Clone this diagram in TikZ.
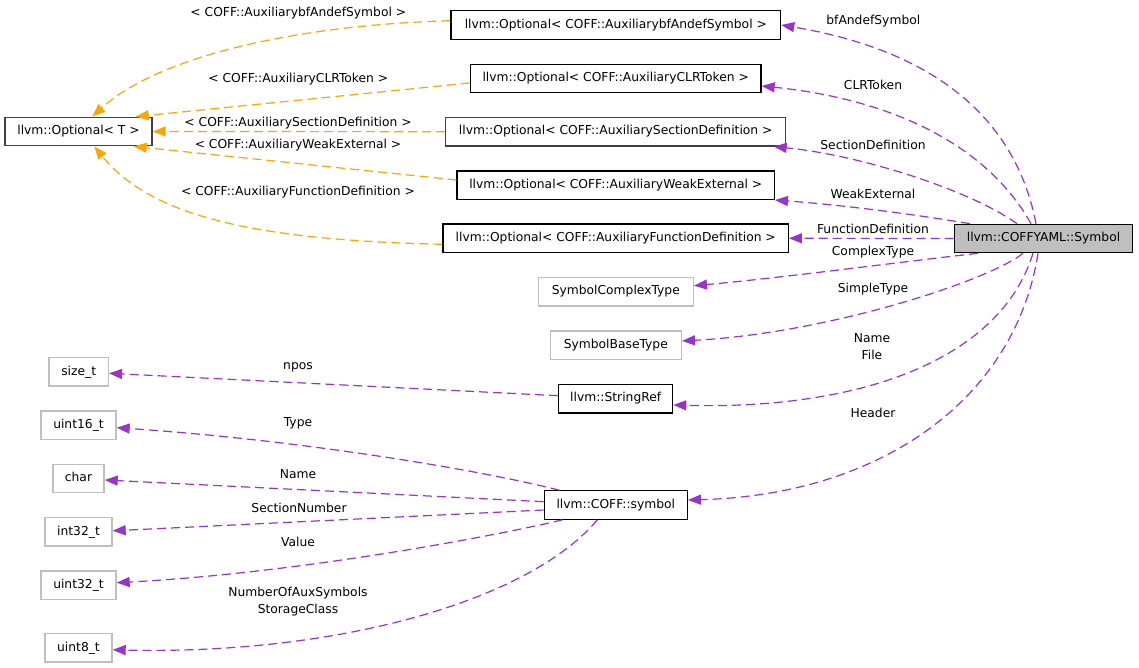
\documentclass[tikz,border=0pt]{standalone}
\usepackage{fontspec}
\setmainfont{DejaVu Sans}
\usetikzlibrary{arrows.meta,calc}
\definecolor{edgepurple}{HTML}{9A32CD}
\definecolor{edgeorange}{HTML}{FFA500}
\definecolor{boxgray}{HTML}{BFBFBF}
\definecolor{darkborder}{HTML}{404040}
\begin{document}
\begin{tikzpicture}[x=1pt,y=-1pt,
  box/.style={draw=black, line width=1.2pt, minimum height=28.4pt, inner sep=0pt,
    text height=9pt, text depth=2.5pt, font=\fontsize{12.3}{15}\selectfont},
  darkbox/.style={box, draw=darkborder, line width=1.4pt},
  graybox/.style={box, draw=boxgray, line width=1.4pt},
  mainbox/.style={box, fill=boxgray},
  lbl/.style={inner sep=0pt, align=center, font=\fontsize{12.3}{17}\selectfont},
  uses/.style={draw=edgepurple, line width=1.2pt, dash pattern=on 9pt off 5pt,
    -{Triangle[length=13pt,width=10pt,fill=edgepurple]}},
  inh/.style={draw=edgeorange, line width=1.2pt, dash pattern=on 9pt off 5pt,
    -{Triangle[length=13pt,width=10pt,fill=edgeorange]}}
]
\useasboundingbox (0,0) rectangle (1139,668);
\fill[white] (0,0) rectangle (1139,668);

% nodes
\node[darkbox, minimum width=147pt] (optT) at (78.5,131.5) {llvm::Optional< T >};
\node[box, minimum width=329.7pt] (bf) at (615.8,25) {llvm::Optional< COFF::AuxiliarybfAndefSymbol >};
\node[box, minimum width=290.7pt] (clr) at (615.7,78.5) {llvm::Optional< COFF::AuxiliaryCLRToken >};
\node[darkbox, minimum width=340pt] (sec) at (615.7,131.7) {llvm::Optional< COFF::AuxiliarySectionDefinition >};
\node[box, minimum width=317.3pt] (weak) at (615.7,185.3) {llvm::Optional< COFF::AuxiliaryWeakExternal >};
\node[box, minimum width=345.3pt] (func) at (615.7,238.3) {llvm::Optional< COFF::AuxiliaryFunctionDefinition >};
\node[mainbox, minimum width=178.4pt] (sym) at (1043.5,238.5) {llvm::COFFYAML::Symbol};
\node[graybox, minimum width=155pt] (cplx) at (615.8,291.7) {SymbolComplexType};
\node[graybox, minimum width=131pt] (base) at (615.8,345) {SymbolBaseType};
\node[box, minimum width=114pt] (strref) at (615.7,398.7) {llvm::StringRef};
\node[box, minimum width=143pt] (coffsym) at (615.8,505) {llvm::COFF::symbol};
\node[graybox, minimum width=59.3pt] (sizet) at (78.7,371.8) {size\_t};
\node[graybox, minimum width=75pt] (u16) at (78.5,425.2) {uint16\_t};
\node[graybox, minimum width=51pt] (char) at (78.5,478.5) {char};
\node[graybox, minimum width=67pt] (i32) at (78.5,531.8) {int32\_t};
\node[graybox, minimum width=75pt] (u32) at (78.5,585.2) {uint32\_t};
\node[graybox, minimum width=67pt] (u8) at (78.5,647.8) {uint8\_t};

% edge labels
\node[lbl] (lbf) at (298.3,12.7) {< COFF::AuxiliarybfAndefSymbol >};
\node[lbl] (lclr) at (298.3,78.7) {< COFF::AuxiliaryCLRToken >};
\node[lbl] (lsec) at (298,122.7) {< COFF::AuxiliarySectionDefinition >};
\node[lbl] (lweak) at (298,144.7) {< COFF::AuxiliaryWeakExternal >};
\node[lbl] (lfunc) at (298,191.7) {< COFF::AuxiliaryFunctionDefinition >};
\node[lbl] (ubf) at (873.3,20.7) {bfAndefSymbol};
\node[lbl] (uclr) at (873,84.7) {CLRToken};
\node[lbl] (usec) at (873,144.7) {SectionDefinition};
\node[lbl] (uweak) at (873,194) {WeakExternal};
\node[lbl] (ufunc) at (873,228.7) {FunctionDefinition};
\node[lbl] (ucplx) at (873,251.7) {ComplexType};
\node[lbl] (ubase) at (873,288.7) {SimpleType};
\node[lbl] (ustr) at (872,347) {Name\\File};
\node[lbl] (uhead) at (873,412.7) {Header};
\node[lbl] (unpos) at (298,367.7) {npos};
\node[lbl] (utype) at (298,423.7) {Type};
\node[lbl] (uname) at (298,474.3) {Name};
\node[lbl] (usecn) at (299,508.3) {SectionNumber};
\node[lbl] (uval) at (298,542.3) {Value};
\node[lbl] (uaux) at (298,601.3) {NumberOfAuxSymbols\\StorageClass};

% purple edges from Symbol
\draw[uses] ($(sym.north)+(-7.5,0)$) .. controls (1020,140) and (960,55) .. (bf.east);
\draw[uses] ($(sym.north)+(-12.5,0)$) .. controls (990,150) and (900,100) .. ($(clr.east)+(0,7.5)$);
\draw[uses] ($(sym.north)+(-26.5,0)$) .. controls (970,190) and (860,155) .. ($(sec.south east)+(-12.7,0)$);
\draw[uses] ($(sym.north)+(-73.5,0)$) .. controls (900,212) and (830,204) .. (weak.south east);
\draw[uses] (sym.west) -- (func.east);
\draw[uses] ($(sym.south)+(-65.5,0)$) .. controls (900,262) and (780,278) .. ($(cplx.east)+(0,-6)$);
\draw[uses] ($(sym.south)+(-20.5,0)$) .. controls (990,280) and (830,333) .. ($(base.east)+(0,-4)$);
\draw[uses] ($(sym.south)+(-10.5,0)$) .. controls (1000,360) and (860,410) .. ($(strref.east)+(0,6.3)$);
\draw[uses] ($(sym.south)+(-5.5,0)$) .. controls (1015,400) and (880,495) .. ($(coffsym.east)+(0,-5)$);

% purple edges to basic types
\draw[uses] ($(strref.west)+(0,-3)$) -- ($(sizet.east)+(0,1.5)$);
\draw[uses] ($(coffsym.north west)+(15.7,0)$) .. controls (480,470) and (300,440) .. ($(u16.east)+(0,2.5)$);
\draw[uses] ($(coffsym.west)+(0,-3.3)$) -- ($(char.east)+(0,1.5)$);
\draw[uses] ($(coffsym.west)+(0,5)$) -- ($(i32.east)+(0,-1)$);
\draw[uses] ($(coffsym.south west)+(18.7,0)$) .. controls (500,535) and (300,573) .. ($(u32.east)+(0,-2.5)$);
\draw[uses] ($(coffsym.south west)+(53.7,0)$) .. controls (530,600) and (340,655) .. ($(u8.east)+(0,2)$);

% orange template-instance edges
\draw[inh] ($(bf.west)+(0,-4.3)$) .. controls (300,25) and (160,55) .. ($(optT.north west)+(88,0)$);
\draw[inh] ($(clr.west)+(0,4.5)$) -- ($(optT.north east)+(-17,0)$);
\draw[inh] (sec.west) -- (optT.east);
\draw[inh] ($(weak.west)+(0,-5.3)$) -- ($(optT.south east)+(-19,0)$);
\draw[inh] ($(func.west)+(0,6)$) .. controls (250,240) and (150,215) .. ($(optT.south west)+(90,0)$);
\end{tikzpicture}
\end{document}
